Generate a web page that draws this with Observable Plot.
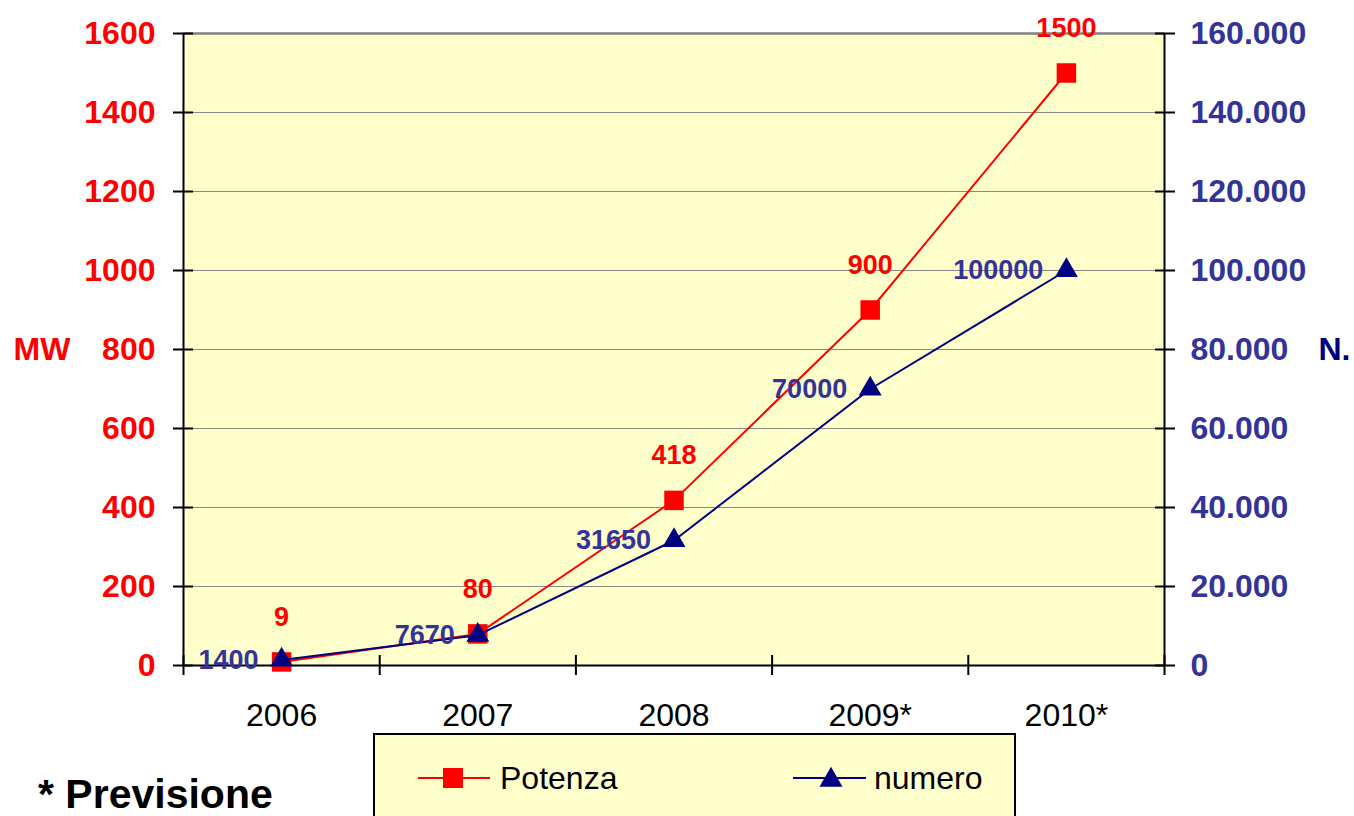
<!DOCTYPE html>
<html>
<head>
<meta charset="utf-8">
<script src="https://cdn.jsdelivr.net/npm/d3@7"></script>
<script src="https://cdn.jsdelivr.net/npm/@observablehq/plot@0.6"></script>
<style>
  html, body { margin: 0; padding: 0; background: #ffffff; }
  #wrap { position: relative; width: 1354px; height: 816px; overflow: hidden; font-family: "Liberation Sans", Arial, sans-serif; }
  #chart { position: absolute; left: 0; top: 0; }
  #overlay { position: absolute; left: 0; top: 0; pointer-events: none; }
</style>
</head>
<body>
<div id="wrap">
  <div id="chart"></div>
  <svg id="overlay" width="1354" height="816"></svg>
</div>
<script>
// ---- data ----
const years = ["2006", "2007", "2008", "2009*", "2010*"];
const potenza = [9, 80, 418, 900, 1500];          // MW
const numero = [1400, 7670, 31650, 70000, 100000]; // N.
const leftTicks = [0, 200, 400, 600, 800, 1000, 1200, 1400, 1600];
const rightTickLabels = ["0", "20.000", "40.000", "60.000", "80.000", "100.000", "120.000", "140.000", "160.000"];
const seriesNames = ["Potenza", "numero"];
const noteText = "* Previsione";

const RED = "#FF0000";
const NAVY = "#000080";
const BLUE_TXT = "#333399";
const ratio = 100; // right axis = left axis * 100

const idx = years.map((d, i) => i);
const bounds = d3.range(years.length + 1).map(i => i - 0.5);
const font = "Liberation Sans, Arial, sans-serif";

const chart = Plot.plot({
  width: 1354,
  height: 816,
  marginLeft: 183,
  marginRight: 190,
  marginTop: 33,
  marginBottom: 151,
  style: { fontFamily: font, background: "transparent", overflow: "visible" },
  x: { type: "linear", domain: [-0.5, years.length - 0.5] },
  y: { type: "linear", domain: [0, 1600] },
  marks: [
    Plot.frame({ fill: "#FFFFCC", stroke: "none" }),
    Plot.ruleY(leftTicks.filter(d => d > 0 && d < 1600), { stroke: "#8a8a80", strokeWidth: 1 }),
    Plot.ruleY([1600], { stroke: "#808080", strokeWidth: 2.5 }),
    // axis lines
    Plot.ruleX([-0.5], { stroke: "black", strokeWidth: 2 }),
    Plot.ruleX([years.length - 0.5], { stroke: "black", strokeWidth: 2 }),
    Plot.ruleY([0], { stroke: "black", strokeWidth: 2 }),
    // left axis (cross ticks + labels)
    Plot.axisY(leftTicks, { anchor: "left", tickSize: 20, dx: 10, tickFormat: () => "", strokeWidth: 2, color: "black", label: null }),
    Plot.axisY(leftTicks, { anchor: "left", tickSize: 0, tickPadding: 28, color: RED, fontSize: 32, fontWeight: "bold", tickFormat: d => String(d), label: null }),
    // right axis
    Plot.axisY(leftTicks, { anchor: "right", tickSize: 20, dx: -10, tickFormat: () => "", strokeWidth: 2, color: "black", label: null }),
    Plot.axisY(leftTicks, { anchor: "right", tickSize: 0, tickPadding: 26, color: BLUE_TXT, fontSize: 32, fontWeight: "bold", tickFormat: d => rightTickLabels[leftTicks.indexOf(d)], label: null }),
    // x axis
    Plot.axisX(bounds, { anchor: "bottom", tickSize: 20, dy: -10, tickFormat: () => "", strokeWidth: 2, color: "black", label: null }),
    Plot.axisX(idx, { anchor: "bottom", tickSize: 0, tickPadding: 38, color: "black", fontSize: 32, tickFormat: i => years[i], label: null }),
    // axis titles
    Plot.text(["MW"], { frameAnchor: "left", dx: -170, textAnchor: "start", fill: RED, fontSize: 32, fontWeight: "bold" }),
    Plot.text(["N."], { frameAnchor: "right", dx: 154, textAnchor: "start", fill: NAVY, fontSize: 32, fontWeight: "bold" }),
    // series: Potenza
    Plot.line(potenza, { x: (d, i) => i, y: d => d, stroke: RED, strokeWidth: 2 }),
    Plot.dot(potenza, { x: (d, i) => i, y: d => d, symbol: "square", r: 11, fill: RED, stroke: "none" }),
    // series: numero
    Plot.line(numero, { x: (d, i) => i, y: d => d / ratio, stroke: NAVY, strokeWidth: 2 }),
    Plot.dot(numero, { x: (d, i) => i, y: d => d / ratio, symbol: "triangle", r: 8.5, fill: NAVY, stroke: "none" }),
    // labels
    Plot.text(potenza, { x: (d, i) => i, y: d => d, text: d => String(d), dy: -45, fill: RED, fontSize: 27, fontWeight: "bold" }),
    Plot.text(numero, { x: (d, i) => i, y: d => d / ratio, text: d => String(d), dx: -23, textAnchor: "end", fill: BLUE_TXT, fontSize: 27, fontWeight: "bold" })
  ]
});
document.getElementById("chart").appendChild(chart);

// ---- legend & note overlay ----
const ov = d3.select("#overlay");
ov.append("rect").attr("x", 374).attr("y", 734).attr("width", 641).attr("height", 120)
  .attr("fill", "#FFFFCC").attr("stroke", "black").attr("stroke-width", 2);
const items = [
  { name: seriesNames[0], x0: 418, x1: 490, cx: 453, tx: 500, color: RED, sym: d3.symbolSquare, size: 400 },
  { name: seriesNames[1], x0: 793, x1: 866, cx: 831, tx: 874, color: NAVY, sym: d3.symbolTriangle, size: 230 }
];
items.forEach(it => {
  ov.append("line").attr("x1", it.x0).attr("x2", it.x1).attr("y1", 778).attr("y2", 778)
    .attr("stroke", it.color).attr("stroke-width", 2);
  ov.append("path").attr("d", d3.symbol(it.sym, it.size)()).attr("transform", `translate(${it.cx},${it.sym === d3.symbolTriangle ? 780 : 778})`)
    .attr("fill", it.color);
  ov.append("text").attr("x", it.tx).attr("y", 778).attr("dy", "0.35em")
    .attr("font-family", font).attr("font-size", 32).attr("fill", "black").text(it.name);
});
ov.append("text").attr("x", 38).attr("y", 808)
  .attr("font-family", font).attr("font-size", 41).attr("font-weight", "bold").attr("fill", "black").text(noteText);
</script>
</body>
</html>
